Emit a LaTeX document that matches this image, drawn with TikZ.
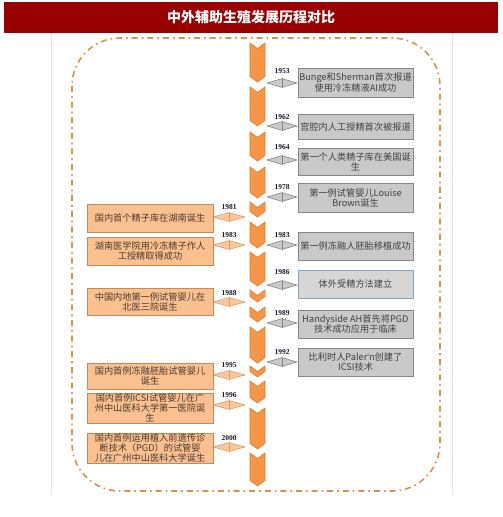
\documentclass[tikz,border=0pt]{standalone}
\usepackage{fontspec}
\setmainfont{Noto Sans CJK SC}
\newfontfamily\yearfont{Liberation Serif}
\newfontfamily\latinfont{Liberation Sans}
\usetikzlibrary{shapes.geometric}
\definecolor{titlered}{HTML}{990000}
\definecolor{framegray}{HTML}{E2E2E2}
\definecolor{dashorange}{HTML}{D4934C}
\definecolor{chevfill}{HTML}{F79646}
\definecolor{chevdraw}{HTML}{DC7A2C}
\definecolor{rfill}{HTML}{C9C9C9}
\definecolor{rdraw}{HTML}{858585}
\definecolor{rfilltwo}{HTML}{D6D6D6}
\definecolor{rdrawtwo}{HTML}{7EA6C4}
\definecolor{lfill}{HTML}{FAC08F}
\definecolor{ldraw}{HTML}{C38A55}
\definecolor{lconnfill}{HTML}{FBC79B}
\definecolor{lconndraw}{HTML}{E59B5E}
\definecolor{rtext}{HTML}{404040}
\definecolor{ltext}{HTML}{4A3B30}
\definecolor{yeartext}{HTML}{1A1A2A}
\tikzset{
  chev/.style={fill=chevfill, draw=chevdraw, line width=0.6pt, line join=miter},
  rbox/.style={draw=rdraw, fill=rfill, line width=0.8pt, minimum width=115pt, inner sep=0pt,
    align=center, text=rtext, font=\fontsize{9.2}{10}\selectfont},
  rboxb/.style={rbox, draw=rdrawtwo, fill=rfilltwo},
  lbox/.style={draw=ldraw, fill=lfill, line width=0.8pt, minimum width=126pt, inner sep=0pt,
    align=center, text=ltext, font=\fontsize{9.2}{10}\selectfont},
  rconn/.style={shape=diamond, draw=rdraw, fill=rfill, line width=0.6pt, minimum width=30pt,
    minimum height=9pt, inner sep=0pt, shape aspect=3.3},
  lconn/.style={shape=diamond, draw=lconndraw, fill=lconnfill, line width=0.6pt, minimum width=32pt,
    minimum height=9pt, inner sep=0pt, shape aspect=3.5},
  rconnline/.style={draw=rdraw, line width=0.6pt},
  lconnline/.style={draw=lconndraw, line width=0.6pt},
  yearlbl/.style={font=\yearfont\bfseries\fontsize{7.5}{8}\selectfont, text=yeartext, inner sep=0pt},
  dashframe/.style={draw=dashorange, line width=1.6pt, dash pattern=on 6pt off 4pt on 1.6pt off 4pt}
}
% style, year, labelY, connY, boxTop, boxBot, text
\newcommand\revent[7]{%
  \node[#1, minimum height={#6-#5}] (rb#2) at (355.5,{(#5+#6)/2}) {#7};
  \node[rconn] (rc#2) at (282,#4) {};
  \draw[rconnline] (rc#2.north) -- (rc#2.south);
  \node[yearlbl] (ry#2) at (282,#3) {#2};
}
\newcommand\levent[6]{%
  \node[lbox, minimum height={#5-#4}] (lb#1) at (150,{(#4+#5)/2}) {#6};
  \node[lconn] (lc#1) at (229,#3) {};
  \draw[lconnline] (lc#1.north) -- (lc#1.south);
  \node[yearlbl] (ly#1) at (229,#2) {#1};
}
\begin{document}
\begin{tikzpicture}[x=1pt,y=-1pt]
\useasboundingbox (0,0) rectangle (503,517);
\fill[white] (0,0) rectangle (503,517);
% title bar
\fill[titlered] (4,2) rectangle (498,33);
\node[text=white, font=\bfseries\fontsize{14}{16}\selectfont, inner sep=0pt] (title) at (251,17.5) {中外辅助生殖发展历程对比};
% faint frame
\draw[framegray, line width=0.7pt] (51,33) -- (51,495);
\draw[framegray, line width=0.7pt] (452,33) -- (452,495);
% dash-dot rounded frame
\draw[dashframe, rounded corners=48pt] (72,38) rectangle (440,491);
% central chevrons
\foreach \t/\b in {43/82, 87/126, 132/161, 167/198, 202/217, 222/248, 252/286, 290/302, 307/322, 327/363, 366/377, 381/403, 408/449, 453/486}{
  \draw[chev] (250,\t) -- (257.5,\t+5.5) -- (265,\t) -- (265,\b-5.5) -- (257.5,\b) -- (250,\b-5.5) -- cycle;
}
% right events
\revent{rbox}{1953}{71}{83}{68}{97}{Bunge和Sherman首次报道\\使用冷冻精液AI成功}
\revent{rbox}{1962}{117}{126}{114}{139}{宫腔内人工授精首次被报道}
\revent{rbox}{1964}{147}{160}{148}{175}{第一个人类精子库在美国诞\\生}
\revent{rbox}{1978}{187}{197}{183}{212}{第一例试管婴儿Louise\\Brown诞生}
\revent{rbox}{1983}{235}{245}{232}{260}{第一例冻融人胚胎移植成功}
\revent{rboxb}{1986}{272}{285}{270}{298}{体外受精方法建立}
\revent{rbox}{1989}{313}{323}{310}{338}{Handyside AH首先将PGD\\技术成功应用于临床}
\revent{rbox}{1992}{352}{362}{348}{376}{比利时人Paler{\latinfont\symbol{39}}n创建了\\ICSI技术}
% left events
\levent{1981}{207}{217}{204}{232}{国内首个精子库在湖南诞生}
\levent{1983}{235}{245}{237}{265}{湖南医学院用冷冻精子作人\\工授精取得成功}
\levent{1988}{293}{302}{288}{315}{中国内地第一例试管婴儿在\\北医三院诞生}
\levent{1995}{365}{375}{363}{389}{国内首例冻融胚胎试管婴儿\\诞生}
\levent{1996}{395}{405}{393}{423}{国内首例ICSI试管婴儿在广\\州中山医科大学第一医院诞\\生}
\levent{2000}{438}{447}{433}{463}{国内首例运用植入前遗传诊\\断技术（PGD）的试管婴\\儿在广州中山医科大学诞生}
\end{tikzpicture}
\end{document}
